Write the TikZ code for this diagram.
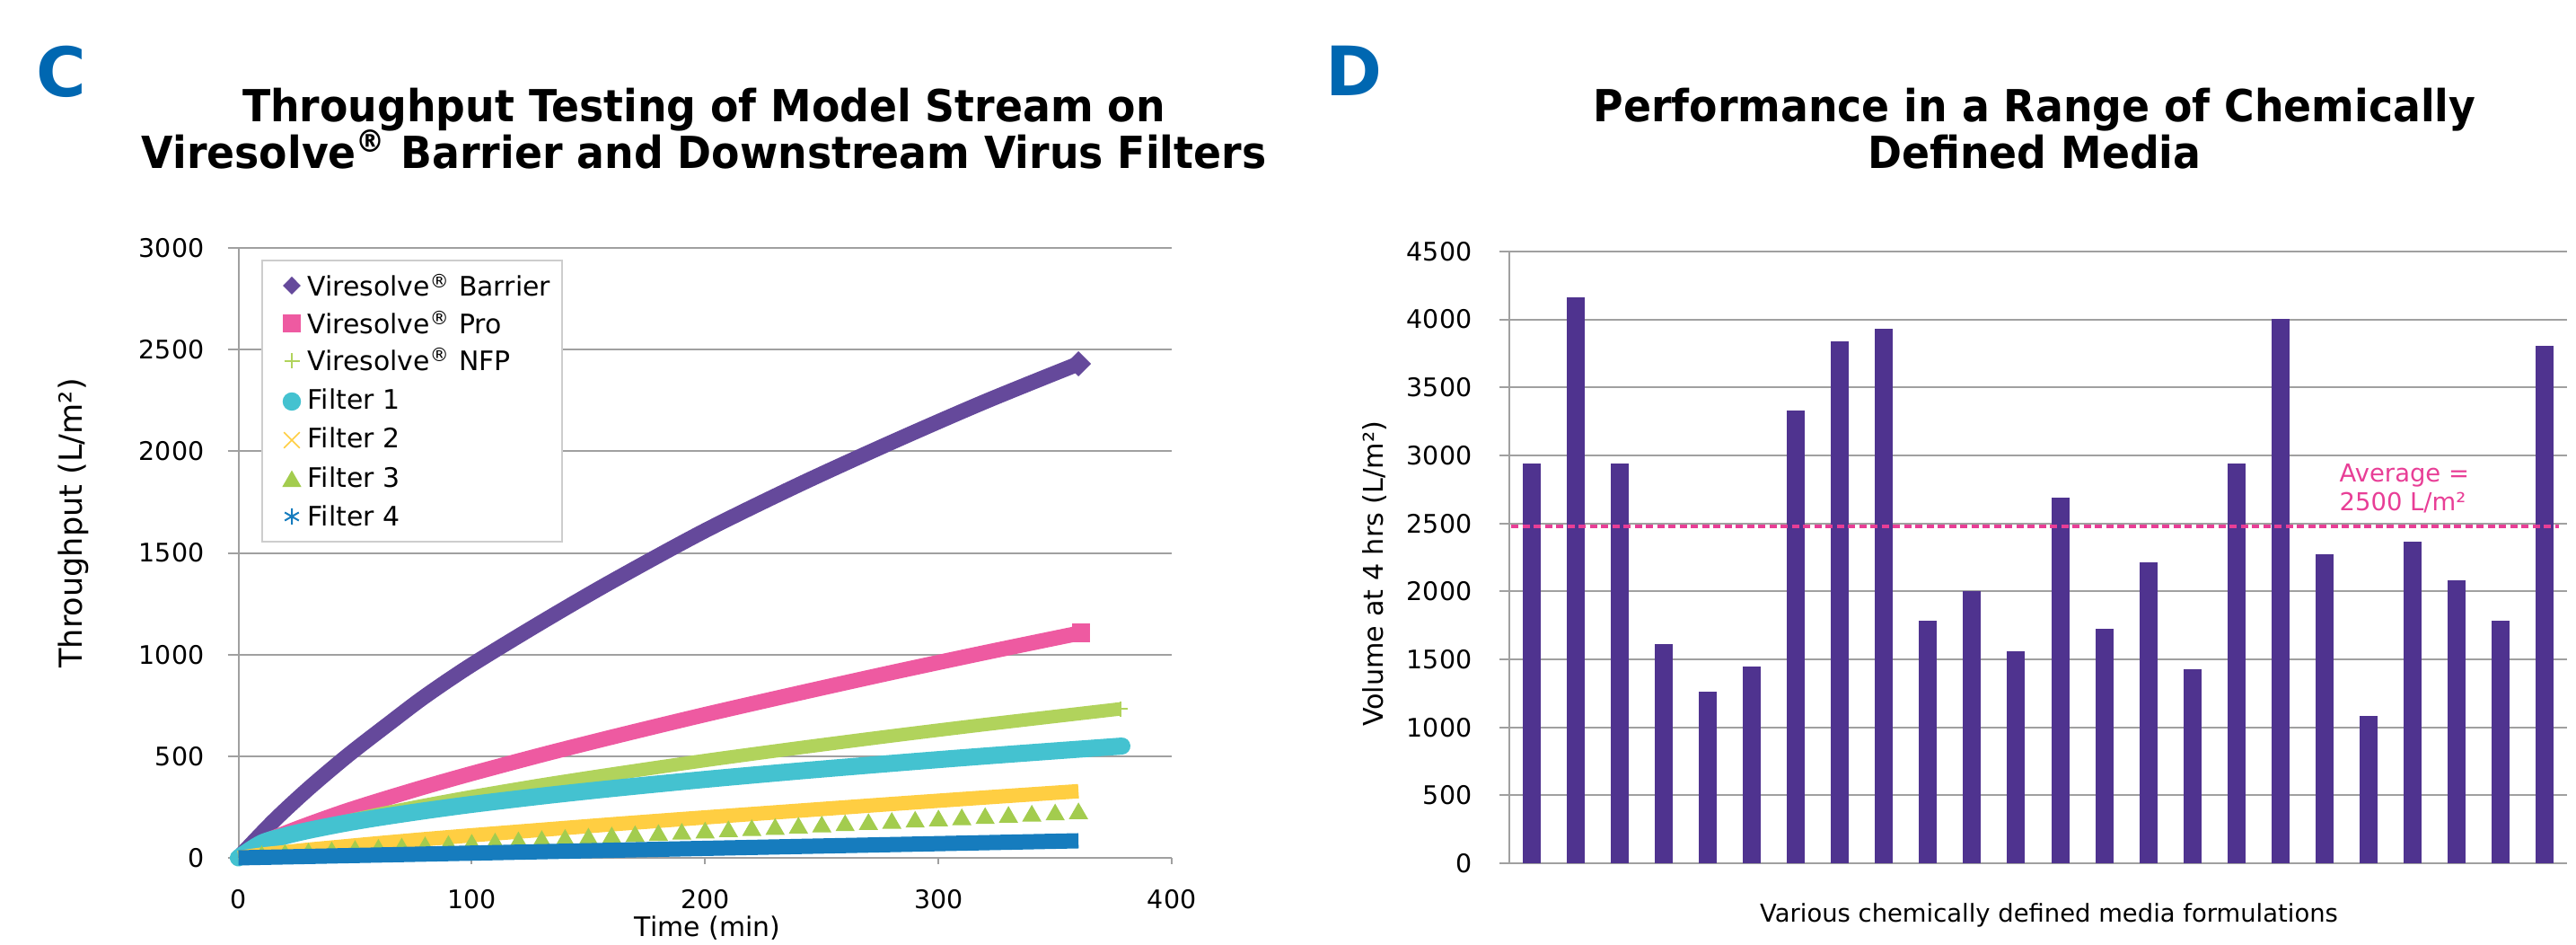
\documentclass[tikz,border=0pt]{standalone}
\usepackage{fontspec}
\setmainfont{DejaVu Sans}
\newfontfamily\titlefont{DejaVu Sans}[FakeStretch=0.93]
\usepackage{tikz}
\usetikzlibrary{plotmarks}

\definecolor{panelblue}{RGB}{0,103,177}
\definecolor{gridgray}{RGB}{160,160,160}
\definecolor{legendgray}{RGB}{205,205,205}
\definecolor{cbarrier}{RGB}{101,73,155}
\definecolor{cpro}{RGB}{238,90,161}
\definecolor{cnfp}{RGB}{177,211,92}
\definecolor{cfilta}{RGB}{68,194,208}
\definecolor{cfiltb}{RGB}{255,206,66}
\definecolor{cfiltc}{RGB}{163,204,78}
\definecolor{cfiltd}{RGB}{22,124,190}
\definecolor{barpurple}{RGB}{79,51,143}
\definecolor{avgpink}{RGB}{232,62,150}

\newcommand{\reg}{\textsuperscript{\textregistered}}

\begin{document}
\begin{tikzpicture}
		\tikzstyle{every node}=[inner sep=0pt]
		\tikzstyle{gline}=[draw=gridgray, line width=0.02cm]
		\tikzstyle{numlab}=[font=\fontsize{8.1}{9.7}\selectfont]
		\tikzstyle{legtext}=[anchor=base west, font=\fontsize{8.5}{10}\selectfont]
		\tikzstyle{ptitle}=[anchor=base, font=\titlefont\bfseries\fontsize{14}{15}\selectfont]
		\tikzstyle{panel}=[anchor=base west, text=panelblue, font=\bfseries\fontsize{21.6}{24}\selectfont]
		\tikzstyle{mediabar}=[fill=barpurple]
		\useasboundingbox (0,0) rectangle (28.69,-10.52);

		% Panel C
		\node[panel] (labc) at (0.40,-1.08) {C};
		\node[ptitle] (ctitlea) at (7.84,-1.36) {Throughput Testing of Model Stream on};
		\node[ptitle] (ctitleb) at (7.84,-1.88) {Viresolve\reg{} Barrier and Downstream Virus Filters};

		\begin{scope}[shift={(2.655,-9.55)}, x=0.2599mm, y=0.022633mm]
			\foreach \v in {0,500,...,3000}{
				\draw[gline] ([xshift=-0.12cm]0,\v) -- (400,\v);
				\node[numlab, anchor=east] (cy\v) at ([xshift=-0.375cm]0,\v) {\v};
			}
			\draw[gline] (0,0) -- (0,3000);
			\foreach \t in {0,100,...,400}{
				\draw[gline] (\t,0) -- ([yshift=-0.07cm]\t,0);
				\node[numlab] (cx\t) at ([yshift=-0.465cm]\t,0) {\t};
			}

			% Curves
			\draw[cbarrier, line width=0.17cm] plot[smooth] coordinates {(0,0) (15,180) (30,340) (47,505) (65,665) (80,795) (100,950) (130,1160) (160,1360) (200,1610) (240,1835) (280,2045) (320,2245) (360,2431)};
			\draw[cbarrier] plot[only marks, mark=diamond*, mark size=0.13cm, mark options={xscale=1.33}] coordinates {(360,2431)};

			\draw[cpro, line width=0.17cm] plot[smooth] coordinates {(0,0) (10,72) (20,121) (30,165) (45,226) (60,281) (80,350) (100,415) (130,507) (160,594) (200,705) (240,810) (280,912) (320,1010) (361,1107)};
			\draw[cpro] plot[only marks, mark=square*, mark size=0.095cm] coordinates {(361,1107)};

			\draw[cnfp, line width=0.15cm] plot[smooth] coordinates {(0,0) (10,64) (20,103) (30,135) (45,176) (60,214) (80,259) (100,301) (130,359) (160,412) (200,479) (240,541) (280,600) (320,656) (378,733)};
			\draw[cnfp, line width=0.02cm] plot[only marks, mark=+, mark size=0.085cm] coordinates {(378,733)};

			\draw[cfilta, line width=0.19cm, line cap=round] plot[smooth] coordinates {(0,0) (10,73) (20,108) (30,135) (45,169) (60,198) (80,232) (100,263) (130,304) (160,341) (200,386) (240,427) (280,465) (320,501) (378.6,550)};

			\draw[cfiltb, line width=0.16cm] plot[smooth] coordinates {(0,0) (10,16) (20,28) (30,40) (45,56) (60,72) (80,92) (100,111) (130,138) (160,165) (200,199) (240,232) (280,265) (320,297) (360,328)};

			\foreach \t in {10,20,...,360}
				\draw[cfiltc] plot[only marks, mark=triangle*, mark size=0.11cm] coordinates {(\t,{218*(\t/360)^0.97})};

			\draw[cfiltd, line width=0.17cm] (0,0) -- (360,84);
		\end{scope}

		% Legend
		\draw[draw=legendgray, fill=white, line width=0.02cm] (2.92,-2.90) rectangle (6.26,-6.03);
		\draw[cbarrier] plot[only marks, mark=diamond*, mark size=0.09cm, mark options={xscale=1.33}] coordinates {(3.25,-3.18)};
		\draw[cpro] plot[only marks, mark=square*, mark size=0.095cm] coordinates {(3.25,-3.60)};
		\draw[cnfp, line width=0.015cm] plot[only marks, mark=+, mark size=0.085cm] coordinates {(3.25,-4.02)};
		\draw[cfilta] plot[only marks, mark=*, mark size=0.095cm] coordinates {(3.25,-4.47)};
		\draw[cfiltb, line width=0.015cm] plot[only marks, mark=x, mark size=0.125cm] coordinates {(3.25,-4.90)};
		\draw[cfiltc] plot[only marks, mark=triangle*, mark size=0.11cm] coordinates {(3.25,-5.36)};
		\draw[cfiltd, line width=0.02cm] plot[only marks, mark=asterisk, mark size=0.09cm] coordinates {(3.25,-5.75)};
		\node[legtext] (lbarrier) at (3.42,-3.30) {Viresolve\reg{} Barrier};
		\node[legtext] (lpro) at (3.42,-3.717) {Viresolve\reg{} Pro};
		\node[legtext] (lnfp) at (3.42,-4.127) {Viresolve\reg{} NFP};
		\node[legtext] (lfilta) at (3.42,-4.56) {Filter 1};
		\node[legtext] (lfiltb) at (3.42,-4.99) {Filter 2};
		\node[legtext] (lfiltc) at (3.42,-5.43) {Filter 3};
		\node[legtext] (lfiltd) at (3.42,-5.86) {Filter 4};

		\node[rotate=90, anchor=base, font=\fontsize{10}{12}\selectfont] (cylab) at (0.917,-5.825) {Throughput (L/m²)};
		\node[anchor=base, font=\fontsize{8.5}{10}\selectfont] (cxlab) at (7.88,-10.43) {Time (min)};

		% Panel D
		\node[panel] (labd) at (14.76,-1.07) {D};
		\node[ptitle] (dtitlea) at (22.66,-1.36) {Performance in a Range of Chemically};
		\node[ptitle] (dtitleb) at (22.66,-1.88) {Defined Media};

		\begin{scope}[shift={(16.81,-9.61)}, x=0.4908cm, y=0.01514mm]
			\foreach \v in {0,500,...,4500}{
				\draw[gline] ([xshift=-0.11cm]0,\v) -- (24,\v);
				\node[numlab, anchor=east] (dy\v) at ([xshift=-0.41cm]0,\v) {\v};
			}
			\draw[gline] (0,0) -- (0,4500);
			\foreach \val [count=\i] in {2940,4165,2940,1615,1264,1449,3331,3838,3929,1787,2000,1561,2689,1723,2216,1426,2940,4003,2270,1084,2365,2084,1784,3807}
				\fill[mediabar] ({\i-0.5-0.2037},0) rectangle ({\i-0.5+0.2037},\val);
			\draw[avgpink, line width=0.04cm, dash pattern=on 0.08cm off 0.045cm] ([xshift=0.02cm]0,2475) -- ([xshift=-0.09cm]24,2475);
		\end{scope}

		\node[anchor=base west, text=avgpink, font=\fontsize{7.8}{9.1}\selectfont] (avga) at (26.05,-5.37) {Average =};
		\node[anchor=base west, text=avgpink, font=\fontsize{7.8}{9.1}\selectfont] (avgb) at (26.05,-5.69) {2500 L/m²};

		\node[rotate=90, anchor=base, font=\fontsize{8.6}{10}\selectfont] (dylab) at (15.40,-6.39) {Volume at 4 hrs (L/m²)};
		\node[anchor=base, font=\fontsize{7.8}{9.4}\selectfont] (dxlab) at (22.82,-10.27) {Various chemically defined media formulations};
	\end{tikzpicture}
\end{document}
